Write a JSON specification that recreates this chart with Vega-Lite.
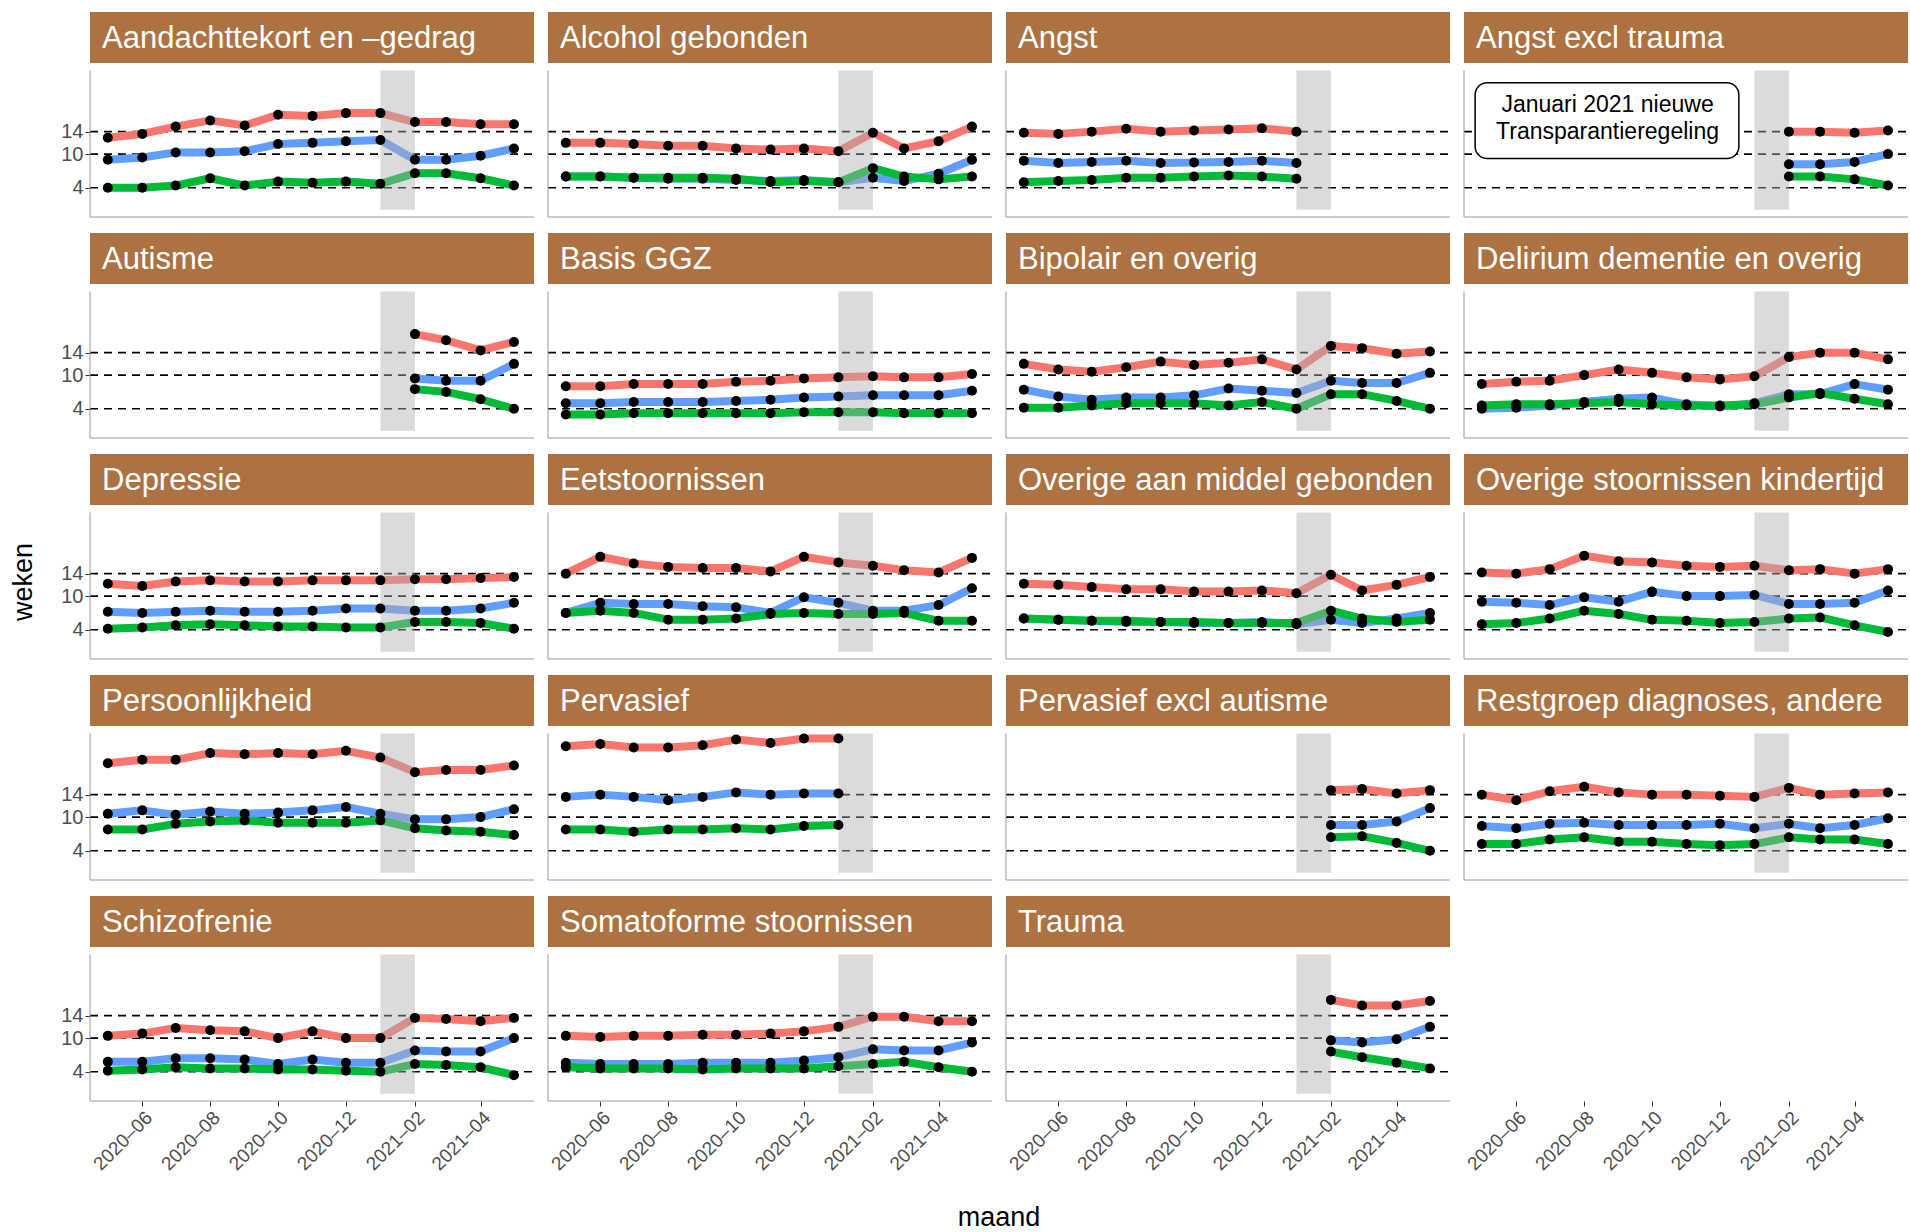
{
  "$schema": "https://vega.github.io/schema/vega-lite/v6.json",
  "padding": {"left": 10, "top": 12, "right": 0, "bottom": 0},
  "background": "white",
  "bounds": "flush",
  "config": {"font": "Liberation Sans", "view": {"stroke": null}},
  "data": {"values": [
    {"p":"Aandachttekort en –gedrag","m":"2020-05-01","h":12.9,"md":9,"l":4},
    {"p":"Aandachttekort en –gedrag","m":"2020-06-01","h":13.6,"md":9.4,"l":4},
    {"p":"Aandachttekort en –gedrag","m":"2020-07-01","h":14.9,"md":10.3,"l":4.4},
    {"p":"Aandachttekort en –gedrag","m":"2020-08-01","h":16,"md":10.3,"l":5.7},
    {"p":"Aandachttekort en –gedrag","m":"2020-09-01","h":15.1,"md":10.5,"l":4.4},
    {"p":"Aandachttekort en –gedrag","m":"2020-10-01","h":17,"md":11.8,"l":5.1},
    {"p":"Aandachttekort en –gedrag","m":"2020-11-01","h":16.8,"md":12,"l":4.9},
    {"p":"Aandachttekort en –gedrag","m":"2020-12-01","h":17.3,"md":12.3,"l":5.1},
    {"p":"Aandachttekort en –gedrag","m":"2021-01-01","h":17.3,"md":12.5,"l":4.7},
    {"p":"Aandachttekort en –gedrag","m":"2021-02-01","h":15.7,"md":9,"l":6.6},
    {"p":"Aandachttekort en –gedrag","m":"2021-03-01","h":15.7,"md":9,"l":6.6},
    {"p":"Aandachttekort en –gedrag","m":"2021-04-01","h":15.3,"md":9.7,"l":5.7},
    {"p":"Aandachttekort en –gedrag","m":"2021-05-01","h":15.3,"md":11,"l":4.4},
    {"p":"Alcohol gebonden","m":"2020-05-01","h":12,"md":6,"l":6},
    {"p":"Alcohol gebonden","m":"2020-06-01","h":12,"md":6,"l":6},
    {"p":"Alcohol gebonden","m":"2020-07-01","h":11.8,"md":5.8,"l":5.8},
    {"p":"Alcohol gebonden","m":"2020-08-01","h":11.5,"md":5.6,"l":5.8},
    {"p":"Alcohol gebonden","m":"2020-09-01","h":11.5,"md":5.6,"l":5.8},
    {"p":"Alcohol gebonden","m":"2020-10-01","h":11,"md":5.4,"l":5.6},
    {"p":"Alcohol gebonden","m":"2020-11-01","h":10.8,"md":5.2,"l":5},
    {"p":"Alcohol gebonden","m":"2020-12-01","h":11,"md":5.4,"l":5.2},
    {"p":"Alcohol gebonden","m":"2021-01-01","h":10.5,"md":5,"l":5},
    {"p":"Alcohol gebonden","m":"2021-02-01","h":13.8,"md":5.8,"l":7.5},
    {"p":"Alcohol gebonden","m":"2021-03-01","h":11,"md":5.2,"l":6},
    {"p":"Alcohol gebonden","m":"2021-04-01","h":12.3,"md":6.5,"l":5.5},
    {"p":"Alcohol gebonden","m":"2021-05-01","h":14.9,"md":9,"l":6},
    {"p":"Angst","m":"2020-05-01","h":13.8,"md":8.8,"l":5},
    {"p":"Angst","m":"2020-06-01","h":13.6,"md":8.4,"l":5.2},
    {"p":"Angst","m":"2020-07-01","h":14,"md":8.6,"l":5.4},
    {"p":"Angst","m":"2020-08-01","h":14.5,"md":8.8,"l":5.8},
    {"p":"Angst","m":"2020-09-01","h":14,"md":8.4,"l":5.8},
    {"p":"Angst","m":"2020-10-01","h":14.2,"md":8.5,"l":6},
    {"p":"Angst","m":"2020-11-01","h":14.4,"md":8.6,"l":6.2},
    {"p":"Angst","m":"2020-12-01","h":14.6,"md":8.8,"l":6},
    {"p":"Angst","m":"2021-01-01","h":14,"md":8.4,"l":5.6},
    {"p":"Angst excl trauma","m":"2021-02-01","h":14,"md":8.2,"l":6},
    {"p":"Angst excl trauma","m":"2021-03-01","h":14,"md":8.2,"l":6},
    {"p":"Angst excl trauma","m":"2021-04-01","h":13.8,"md":8.6,"l":5.5},
    {"p":"Angst excl trauma","m":"2021-05-01","h":14.2,"md":10,"l":4.4},
    {"p":"Autisme","m":"2021-02-01","h":17.3,"md":9.4,"l":7.5},
    {"p":"Autisme","m":"2021-03-01","h":16.2,"md":9,"l":7},
    {"p":"Autisme","m":"2021-04-01","h":14.4,"md":9,"l":5.7},
    {"p":"Autisme","m":"2021-05-01","h":15.9,"md":12,"l":4},
    {"p":"Basis GGZ","m":"2020-05-01","h":8,"md":5,"l":3},
    {"p":"Basis GGZ","m":"2020-06-01","h":8,"md":5,"l":3},
    {"p":"Basis GGZ","m":"2020-07-01","h":8.4,"md":5.2,"l":3.2},
    {"p":"Basis GGZ","m":"2020-08-01","h":8.4,"md":5.2,"l":3.2},
    {"p":"Basis GGZ","m":"2020-09-01","h":8.4,"md":5.2,"l":3.2},
    {"p":"Basis GGZ","m":"2020-10-01","h":8.8,"md":5.4,"l":3.2},
    {"p":"Basis GGZ","m":"2020-11-01","h":9,"md":5.6,"l":3.2},
    {"p":"Basis GGZ","m":"2020-12-01","h":9.4,"md":6,"l":3.4},
    {"p":"Basis GGZ","m":"2021-01-01","h":9.6,"md":6.2,"l":3.4},
    {"p":"Basis GGZ","m":"2021-02-01","h":9.8,"md":6.4,"l":3.4},
    {"p":"Basis GGZ","m":"2021-03-01","h":9.6,"md":6.4,"l":3.2},
    {"p":"Basis GGZ","m":"2021-04-01","h":9.6,"md":6.4,"l":3.2},
    {"p":"Basis GGZ","m":"2021-05-01","h":10.2,"md":7.2,"l":3.2},
    {"p":"Bipolair en overig","m":"2020-05-01","h":12,"md":7.4,"l":4.2},
    {"p":"Bipolair en overig","m":"2020-06-01","h":11,"md":6.2,"l":4.2},
    {"p":"Bipolair en overig","m":"2020-07-01","h":10.6,"md":5.6,"l":4.6},
    {"p":"Bipolair en overig","m":"2020-08-01","h":11.4,"md":6,"l":5},
    {"p":"Bipolair en overig","m":"2020-09-01","h":12.4,"md":6,"l":5},
    {"p":"Bipolair en overig","m":"2020-10-01","h":11.8,"md":6.4,"l":5},
    {"p":"Bipolair en overig","m":"2020-11-01","h":12.2,"md":7.6,"l":4.6},
    {"p":"Bipolair en overig","m":"2020-12-01","h":12.8,"md":7.2,"l":5.2},
    {"p":"Bipolair en overig","m":"2021-01-01","h":11,"md":6.8,"l":4},
    {"p":"Bipolair en overig","m":"2021-02-01","h":15.2,"md":9,"l":6.6},
    {"p":"Bipolair en overig","m":"2021-03-01","h":14.8,"md":8.6,"l":6.6},
    {"p":"Bipolair en overig","m":"2021-04-01","h":13.8,"md":8.6,"l":5.4},
    {"p":"Bipolair en overig","m":"2021-05-01","h":14.2,"md":10.4,"l":4},
    {"p":"Delirium dementie en overig","m":"2020-05-01","h":8.4,"md":4,"l":4.6},
    {"p":"Delirium dementie en overig","m":"2020-06-01","h":8.8,"md":4.2,"l":4.8},
    {"p":"Delirium dementie en overig","m":"2020-07-01","h":9,"md":4.6,"l":4.8},
    {"p":"Delirium dementie en overig","m":"2020-08-01","h":10,"md":5.2,"l":5},
    {"p":"Delirium dementie en overig","m":"2020-09-01","h":11,"md":5.8,"l":5.2},
    {"p":"Delirium dementie en overig","m":"2020-10-01","h":10.4,"md":6,"l":4.8},
    {"p":"Delirium dementie en overig","m":"2020-11-01","h":9.6,"md":4.8,"l":4.6},
    {"p":"Delirium dementie en overig","m":"2020-12-01","h":9.2,"md":4.4,"l":4.6},
    {"p":"Delirium dementie en overig","m":"2021-01-01","h":9.8,"md":5,"l":4.8},
    {"p":"Delirium dementie en overig","m":"2021-02-01","h":13.2,"md":6.6,"l":6},
    {"p":"Delirium dementie en overig","m":"2021-03-01","h":14,"md":6.6,"l":6.8},
    {"p":"Delirium dementie en overig","m":"2021-04-01","h":14,"md":8.4,"l":5.8},
    {"p":"Delirium dementie en overig","m":"2021-05-01","h":12.8,"md":7.4,"l":4.8},
    {"p":"Depressie","m":"2020-05-01","h":12.2,"md":7.2,"l":4.2},
    {"p":"Depressie","m":"2020-06-01","h":11.8,"md":7,"l":4.4},
    {"p":"Depressie","m":"2020-07-01","h":12.6,"md":7.2,"l":4.8},
    {"p":"Depressie","m":"2020-08-01","h":12.8,"md":7.4,"l":5},
    {"p":"Depressie","m":"2020-09-01","h":12.6,"md":7.2,"l":4.8},
    {"p":"Depressie","m":"2020-10-01","h":12.6,"md":7.2,"l":4.6},
    {"p":"Depressie","m":"2020-11-01","h":12.8,"md":7.4,"l":4.6},
    {"p":"Depressie","m":"2020-12-01","h":12.8,"md":7.8,"l":4.4},
    {"p":"Depressie","m":"2021-01-01","h":12.8,"md":7.8,"l":4.4},
    {"p":"Depressie","m":"2021-02-01","h":13,"md":7.4,"l":5.4},
    {"p":"Depressie","m":"2021-03-01","h":13,"md":7.4,"l":5.4},
    {"p":"Depressie","m":"2021-04-01","h":13.2,"md":7.8,"l":5.2},
    {"p":"Depressie","m":"2021-05-01","h":13.4,"md":8.8,"l":4.2},
    {"p":"Eetstoornissen","m":"2020-05-01","h":14,"md":7,"l":7},
    {"p":"Eetstoornissen","m":"2020-06-01","h":17,"md":8.8,"l":7.4},
    {"p":"Eetstoornissen","m":"2020-07-01","h":15.8,"md":8.6,"l":7},
    {"p":"Eetstoornissen","m":"2020-08-01","h":15.2,"md":8.6,"l":5.8},
    {"p":"Eetstoornissen","m":"2020-09-01","h":15,"md":8.2,"l":5.8},
    {"p":"Eetstoornissen","m":"2020-10-01","h":15,"md":8,"l":6},
    {"p":"Eetstoornissen","m":"2020-11-01","h":14.4,"md":7,"l":6.8},
    {"p":"Eetstoornissen","m":"2020-12-01","h":17,"md":9.8,"l":7},
    {"p":"Eetstoornissen","m":"2021-01-01","h":16,"md":8.8,"l":6.8},
    {"p":"Eetstoornissen","m":"2021-02-01","h":15.4,"md":7.4,"l":6.8},
    {"p":"Eetstoornissen","m":"2021-03-01","h":14.6,"md":7.4,"l":7},
    {"p":"Eetstoornissen","m":"2021-04-01","h":14.2,"md":8.4,"l":5.6},
    {"p":"Eetstoornissen","m":"2021-05-01","h":16.8,"md":11.4,"l":5.6},
    {"p":"Overige aan middel gebonden","m":"2020-05-01","h":12.2,"md":6,"l":6},
    {"p":"Overige aan middel gebonden","m":"2020-06-01","h":12,"md":5.8,"l":5.8},
    {"p":"Overige aan middel gebonden","m":"2020-07-01","h":11.6,"md":5.6,"l":5.6},
    {"p":"Overige aan middel gebonden","m":"2020-08-01","h":11.2,"md":5.4,"l":5.6},
    {"p":"Overige aan middel gebonden","m":"2020-09-01","h":11.2,"md":5.4,"l":5.4},
    {"p":"Overige aan middel gebonden","m":"2020-10-01","h":10.8,"md":5.2,"l":5.4},
    {"p":"Overige aan middel gebonden","m":"2020-11-01","h":10.8,"md":5.2,"l":5.2},
    {"p":"Overige aan middel gebonden","m":"2020-12-01","h":11,"md":5.4,"l":5.2},
    {"p":"Overige aan middel gebonden","m":"2021-01-01","h":10.5,"md":5,"l":5.2},
    {"p":"Overige aan middel gebonden","m":"2021-02-01","h":13.8,"md":5.8,"l":7.4},
    {"p":"Overige aan middel gebonden","m":"2021-03-01","h":11,"md":5.2,"l":6},
    {"p":"Overige aan middel gebonden","m":"2021-04-01","h":12,"md":6,"l":5.4},
    {"p":"Overige aan middel gebonden","m":"2021-05-01","h":13.4,"md":7,"l":5.8},
    {"p":"Overige stoornissen kindertijd","m":"2020-05-01","h":14.2,"md":9,"l":5},
    {"p":"Overige stoornissen kindertijd","m":"2020-06-01","h":14,"md":8.8,"l":5.2},
    {"p":"Overige stoornissen kindertijd","m":"2020-07-01","h":14.8,"md":8.4,"l":6},
    {"p":"Overige stoornissen kindertijd","m":"2020-08-01","h":17.2,"md":9.8,"l":7.4},
    {"p":"Overige stoornissen kindertijd","m":"2020-09-01","h":16.2,"md":9,"l":6.8},
    {"p":"Overige stoornissen kindertijd","m":"2020-10-01","h":16,"md":10.8,"l":5.8},
    {"p":"Overige stoornissen kindertijd","m":"2020-11-01","h":15.4,"md":10,"l":5.6},
    {"p":"Overige stoornissen kindertijd","m":"2020-12-01","h":15.2,"md":10,"l":5.2},
    {"p":"Overige stoornissen kindertijd","m":"2021-01-01","h":15.4,"md":10.2,"l":5.4},
    {"p":"Overige stoornissen kindertijd","m":"2021-02-01","h":14.6,"md":8.6,"l":6},
    {"p":"Overige stoornissen kindertijd","m":"2021-03-01","h":14.8,"md":8.6,"l":6.2},
    {"p":"Overige stoornissen kindertijd","m":"2021-04-01","h":14,"md":8.8,"l":4.8},
    {"p":"Overige stoornissen kindertijd","m":"2021-05-01","h":14.8,"md":11,"l":3.6},
    {"p":"Persoonlijkheid","m":"2020-05-01","h":19.6,"md":10.6,"l":7.8},
    {"p":"Persoonlijkheid","m":"2020-06-01","h":20.2,"md":11.2,"l":7.8},
    {"p":"Persoonlijkheid","m":"2020-07-01","h":20.2,"md":10.4,"l":8.8},
    {"p":"Persoonlijkheid","m":"2020-08-01","h":21.4,"md":11,"l":9.2},
    {"p":"Persoonlijkheid","m":"2020-09-01","h":21.2,"md":10.6,"l":9.4},
    {"p":"Persoonlijkheid","m":"2020-10-01","h":21.4,"md":10.8,"l":9},
    {"p":"Persoonlijkheid","m":"2020-11-01","h":21.2,"md":11.2,"l":9},
    {"p":"Persoonlijkheid","m":"2020-12-01","h":21.8,"md":11.8,"l":9},
    {"p":"Persoonlijkheid","m":"2021-01-01","h":20.6,"md":10.6,"l":9.4},
    {"p":"Persoonlijkheid","m":"2021-02-01","h":18,"md":9.6,"l":8},
    {"p":"Persoonlijkheid","m":"2021-03-01","h":18.4,"md":9.6,"l":7.6},
    {"p":"Persoonlijkheid","m":"2021-04-01","h":18.4,"md":10,"l":7.4},
    {"p":"Persoonlijkheid","m":"2021-05-01","h":19.2,"md":11.4,"l":6.8},
    {"p":"Pervasief","m":"2020-05-01","h":22.6,"md":13.6,"l":7.8},
    {"p":"Pervasief","m":"2020-06-01","h":23,"md":14,"l":7.8},
    {"p":"Pervasief","m":"2020-07-01","h":22.4,"md":13.6,"l":7.4},
    {"p":"Pervasief","m":"2020-08-01","h":22.4,"md":13,"l":7.8},
    {"p":"Pervasief","m":"2020-09-01","h":22.8,"md":13.6,"l":7.8},
    {"p":"Pervasief","m":"2020-10-01","h":23.8,"md":14.4,"l":8},
    {"p":"Pervasief","m":"2020-11-01","h":23.2,"md":14,"l":7.8},
    {"p":"Pervasief","m":"2020-12-01","h":24,"md":14.2,"l":8.4},
    {"p":"Pervasief","m":"2021-01-01","h":24,"md":14.2,"l":8.6},
    {"p":"Pervasief excl autisme","m":"2021-02-01","h":14.8,"md":8.6,"l":6.4},
    {"p":"Pervasief excl autisme","m":"2021-03-01","h":15,"md":8.6,"l":6.6},
    {"p":"Pervasief excl autisme","m":"2021-04-01","h":14.2,"md":9.2,"l":5.4},
    {"p":"Pervasief excl autisme","m":"2021-05-01","h":14.8,"md":11.6,"l":4},
    {"p":"Restgroep diagnoses, andere","m":"2020-05-01","h":14,"md":8.4,"l":5.2},
    {"p":"Restgroep diagnoses, andere","m":"2020-06-01","h":13,"md":8,"l":5.2},
    {"p":"Restgroep diagnoses, andere","m":"2020-07-01","h":14.6,"md":8.8,"l":6},
    {"p":"Restgroep diagnoses, andere","m":"2020-08-01","h":15.4,"md":9,"l":6.4},
    {"p":"Restgroep diagnoses, andere","m":"2020-09-01","h":14.4,"md":8.6,"l":5.6},
    {"p":"Restgroep diagnoses, andere","m":"2020-10-01","h":14,"md":8.6,"l":5.6},
    {"p":"Restgroep diagnoses, andere","m":"2020-11-01","h":14,"md":8.6,"l":5.2},
    {"p":"Restgroep diagnoses, andere","m":"2020-12-01","h":13.8,"md":8.8,"l":5},
    {"p":"Restgroep diagnoses, andere","m":"2021-01-01","h":13.6,"md":8,"l":5.2},
    {"p":"Restgroep diagnoses, andere","m":"2021-02-01","h":15.2,"md":8.8,"l":6.4},
    {"p":"Restgroep diagnoses, andere","m":"2021-03-01","h":14,"md":8,"l":6},
    {"p":"Restgroep diagnoses, andere","m":"2021-04-01","h":14.2,"md":8.6,"l":6},
    {"p":"Restgroep diagnoses, andere","m":"2021-05-01","h":14.4,"md":9.8,"l":5.2},
    {"p":"Schizofrenie","m":"2020-05-01","h":10.4,"md":5.8,"l":4.2},
    {"p":"Schizofrenie","m":"2020-06-01","h":10.8,"md":5.8,"l":4.4},
    {"p":"Schizofrenie","m":"2020-07-01","h":11.8,"md":6.4,"l":4.8},
    {"p":"Schizofrenie","m":"2020-08-01","h":11.4,"md":6.4,"l":4.6},
    {"p":"Schizofrenie","m":"2020-09-01","h":11.2,"md":6.2,"l":4.6},
    {"p":"Schizofrenie","m":"2020-10-01","h":10,"md":5.4,"l":4.4},
    {"p":"Schizofrenie","m":"2020-11-01","h":11.2,"md":6.2,"l":4.4},
    {"p":"Schizofrenie","m":"2020-12-01","h":10,"md":5.6,"l":4.2},
    {"p":"Schizofrenie","m":"2021-01-01","h":10,"md":5.6,"l":4},
    {"p":"Schizofrenie","m":"2021-02-01","h":13.6,"md":7.8,"l":5.4},
    {"p":"Schizofrenie","m":"2021-03-01","h":13.4,"md":7.6,"l":5.2},
    {"p":"Schizofrenie","m":"2021-04-01","h":13,"md":7.6,"l":4.8},
    {"p":"Schizofrenie","m":"2021-05-01","h":13.6,"md":10,"l":3.4},
    {"p":"Somatoforme stoornissen","m":"2020-05-01","h":10.4,"md":5.6,"l":4.8},
    {"p":"Somatoforme stoornissen","m":"2020-06-01","h":10.2,"md":5.4,"l":4.6},
    {"p":"Somatoforme stoornissen","m":"2020-07-01","h":10.4,"md":5.4,"l":4.6},
    {"p":"Somatoforme stoornissen","m":"2020-08-01","h":10.4,"md":5.4,"l":4.6},
    {"p":"Somatoforme stoornissen","m":"2020-09-01","h":10.6,"md":5.6,"l":4.4},
    {"p":"Somatoforme stoornissen","m":"2020-10-01","h":10.6,"md":5.6,"l":4.6},
    {"p":"Somatoforme stoornissen","m":"2020-11-01","h":10.8,"md":5.6,"l":4.6},
    {"p":"Somatoforme stoornissen","m":"2020-12-01","h":11.2,"md":6,"l":4.6},
    {"p":"Somatoforme stoornissen","m":"2021-01-01","h":12,"md":6.6,"l":5},
    {"p":"Somatoforme stoornissen","m":"2021-02-01","h":13.8,"md":8,"l":5.4},
    {"p":"Somatoforme stoornissen","m":"2021-03-01","h":13.8,"md":7.8,"l":5.8},
    {"p":"Somatoforme stoornissen","m":"2021-04-01","h":13,"md":7.8,"l":4.8},
    {"p":"Somatoforme stoornissen","m":"2021-05-01","h":13,"md":9.2,"l":4},
    {"p":"Trauma","m":"2021-02-01","h":16.8,"md":9.6,"l":7.6},
    {"p":"Trauma","m":"2021-03-01","h":15.8,"md":9.2,"l":6.6},
    {"p":"Trauma","m":"2021-04-01","h":15.8,"md":9.8,"l":5.6},
    {"p":"Trauma","m":"2021-05-01","h":16.6,"md":12,"l":4.6}
  ]},
  "facet": {
    "field": "p", "type": "nominal",
    "sort": ["Aandachttekort en –gedrag","Alcohol gebonden","Angst","Angst excl trauma","Autisme","Basis GGZ","Bipolair en overig","Delirium dementie en overig","Depressie","Eetstoornissen","Overige aan middel gebonden","Overige stoornissen kindertijd","Persoonlijkheid","Pervasief","Pervasief excl autisme","Restgroep diagnoses, andere","Schizofrenie","Somatoforme stoornissen","Trauma"],
    "header": {"labels": false, "labelExpr": "''", "labelPadding": 0, "labelFontSize": 0, "title": null},
    "title": null
  },
  "columns": 4,
  "spacing": {"column": 14, "row": 16},
  "spec": {
    "width": 444,
    "height": 205,
    "layer": [
      {"transform": [{"window": [{"op": "row_number", "as": "r"}], "groupby": ["p"]}, {"filter": "datum.r == 1"}],
       "layer": [
        {"mark": {"type": "rule", "color": "black", "strokeDash": [8, 6], "strokeWidth": 1.6}, "encoding": {"x": {"datum": {"year":2020,"month":4,"date":15,"utc":true}, "type": "temporal"}, "x2": {"datum": {"year":2021,"month":5,"date":19,"utc":true}}, "y": {"datum": 4, "type": "quantitative"}}},
        {"mark": {"type": "rule", "color": "black", "strokeDash": [8, 6], "strokeWidth": 1.6}, "encoding": {"x": {"datum": {"year":2020,"month":4,"date":15,"utc":true}, "type": "temporal"}, "x2": {"datum": {"year":2021,"month":5,"date":19,"utc":true}}, "y": {"datum": 10, "type": "quantitative"}}},
        {"mark": {"type": "rule", "color": "black", "strokeDash": [8, 6], "strokeWidth": 1.6}, "encoding": {"x": {"datum": {"year":2020,"month":4,"date":15,"utc":true}, "type": "temporal"}, "x2": {"datum": {"year":2021,"month":5,"date":19,"utc":true}}, "y": {"datum": 14, "type": "quantitative"}}},
        {"mark": {"type": "rule", "color": "#9a9a9a", "strokeWidth": 1}, "encoding": {"x": {"datum": {"year":2020,"month":4,"date":15,"utc":true}, "type": "temporal"}, "x2": {"datum": {"year":2021,"month":5,"date":19,"utc":true}}, "y": {"datum": -1.2, "type": "quantitative"}}},
        {"mark": {"type": "rule", "color": "#9a9a9a", "strokeWidth": 1}, "encoding": {"x": {"datum": {"year":2020,"month":4,"date":15,"utc":true}, "type": "temporal"}, "y": {"datum": -1.2, "type": "quantitative"}, "y2": {"datum": 24.9}}}
       ]},
      {"transform": [{"fold": ["h", "md", "l"], "as": ["k", "v"]}],
       "mark": {"type": "line", "strokeWidth": 8, "strokeCap": "butt", "strokeJoin": "round"},
       "encoding": {
         "x": {"field": "m", "type": "temporal", "title": null,
           "scale": {"type": "utc", "domain": [{"year":2020,"month":4,"date":15,"utc":true},{"year":2021,"month":5,"date":19,"utc":true}]},
           "axis": {"domain": false, "format": "%Y–%m", "labelAngle": -45, "labelAlign": "right", "labelBaseline": "top", "labelFontSize": 19, "labelColor": "#4D4D4D", "tickColor": "#333", "grid": false, "labelOverlap": false,
             "values": [{"year":2020,"month":6,"date":1,"utc":true},{"year":2020,"month":8,"date":1,"utc":true},{"year":2020,"month":10,"date":1,"utc":true},{"year":2020,"month":12,"date":1,"utc":true},{"year":2021,"month":2,"date":1,"utc":true},{"year":2021,"month":4,"date":1,"utc":true}]}},
         "y": {"field": "v", "type": "quantitative", "title": null,
           "scale": {"domain": [-1.2, 35.3], "nice": false, "zero": false},
           "axis": {"domain": false, "values": [4, 10, 14], "labelFontSize": 20, "labelColor": "#4D4D4D", "tickColor": "#333", "grid": false}},
         "color": {"field": "k", "type": "nominal", "scale": {"domain": ["h", "md", "l"], "range": ["#F8766D", "#619CFF", "#00BA38"]}, "legend": null},
         "order": {"field": "m", "type": "temporal"}}},
      {"transform": [{"window": [{"op": "row_number", "as": "r"}], "groupby": ["p"]}, {"filter": "datum.r == 1"}],
       "mark": {"type": "rect", "fill": "#B0B0B0", "opacity": 0.45},
       "encoding": {"x": {"datum": {"year":2021,"month":1,"date":1,"utc":true}, "type": "temporal"}, "x2": {"datum": {"year":2021,"month":2,"date":1,"utc":true}}, "y": {"datum": 0.1, "type": "quantitative"}, "y2": {"datum": 24.9}}},
      {"transform": [{"fold": ["h", "md", "l"], "as": ["k", "v"]}],
       "mark": {"type": "point", "filled": true, "color": "black", "size": 100, "opacity": 1},
       "encoding": {"x": {"field": "m", "type": "temporal"}, "y": {"field": "v", "type": "quantitative"}}},
      {"transform": [{"window": [{"op": "row_number", "as": "r"}], "groupby": ["p"]}, {"filter": "datum.r == 1"}],
       "layer": [
        {"mark": {"type": "rect", "fill": "#AD7242"}, "encoding": {"x": {"datum": {"year":2020,"month":4,"date":15,"utc":true}, "type": "temporal"}, "x2": {"datum": {"year":2021,"month":5,"date":19,"utc":true}}, "y": {"datum": 26.2, "type": "quantitative"}, "y2": {"datum": 35.3}}},
        {"mark": {"type": "text", "color": "white", "fontSize": 31, "align": "left", "baseline": "middle", "dx": 12, "dy": 1}, "encoding": {"x": {"datum": {"year":2020,"month":4,"date":15,"utc":true}, "type": "temporal"}, "y": {"datum": 30.7, "type": "quantitative"}, "text": {"field": "p"}}},
        {"transform": [{"filter": "datum.p == 'Depressie'"}], "mark": {"type": "text", "color": "black", "fontSize": 27, "angle": 270, "align": "center", "baseline": "middle", "dy": -66, "text": "weken"}, "encoding": {"x": {"datum": {"year":2020,"month":4,"date":15,"utc":true}, "type": "temporal"}, "y": {"datum": 12.5, "type": "quantitative"}}},
        {"transform": [{"filter": "datum.p == 'Somatoforme stoornissen'"}], "mark": {"type": "text", "color": "black", "fontSize": 27, "align": "center", "baseline": "middle", "dx": 7, "dy": 117, "text": "maand"}, "encoding": {"x": {"datum": {"year":2021,"month":5,"date":19,"utc":true}, "type": "temporal"}, "y": {"datum": -1.2, "type": "quantitative"}}},
        {"transform": [{"filter": "datum.p == 'Angst excl trauma'"}],
         "layer": [
          {"mark": {"type": "rect", "fill": "white", "stroke": "black", "strokeWidth": 1.5, "cornerRadius": 12}, "encoding": {"x": {"datum": {"year":2020,"month":4,"date":25,"utc":true}, "type": "temporal"}, "x2": {"datum": {"year":2020,"month":12,"date":18,"utc":true}}, "y": {"datum": 9.2, "type": "quantitative"}, "y2": {"datum": 22.7}}},
          {"mark": {"type": "text", "color": "black", "fontSize": 23, "align": "center", "baseline": "middle", "text": "Januari 2021 nieuwe"}, "encoding": {"x": {"datum": {"year":2020,"month":8,"date":22,"utc":true}, "type": "temporal"}, "y": {"datum": 18.8, "type": "quantitative"}}},
          {"mark": {"type": "text", "color": "black", "fontSize": 23, "align": "center", "baseline": "middle", "text": "Transparantieregeling"}, "encoding": {"x": {"datum": {"year":2020,"month":8,"date":22,"utc":true}, "type": "temporal"}, "y": {"datum": 14, "type": "quantitative"}}}
         ]}
       ]}
    ]
  }
}
